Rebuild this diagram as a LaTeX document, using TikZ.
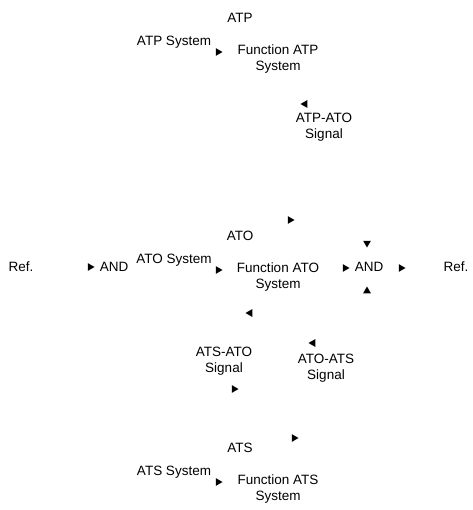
\documentclass[tikz,border=0pt]{standalone}
\usepackage{fontspec}
\setmainfont{Liberation Sans}
\usetikzlibrary{shapes.geometric}
\tikzset{
  lbl/.style={font=\fontsize{13.5}{16.5}\selectfont, align=center, inner sep=1pt},
  tip/.style={regular polygon, regular polygon sides=3, fill=black, inner sep=0pt, minimum size=9pt, rotate=#1}
}
\begin{document}
\begin{tikzpicture}[x=1pt, y=-1pt]
            \useasboundingbox (0,0) rectangle (472,510);
            \foreach \s/\F in {ATP/51,ATO/269,ATS/481}{
              \node[lbl] (\s) at (240,\F-33) {\s};
              \node[lbl] (\s-in) at (174,\F-9) {\s{} System};
              \node[tip=-90] (\s-tip) at (218,\F+1) {};
              \node[lbl] (\s-fn) at (278,\F+8) {Function \s\\System};
            }
            \node[lbl] (ref-l) at (21,267) {Ref.};
            \node[lbl] (and-l) at (114,267) {AND};
            \node[lbl] (and-r) at (369,267) {AND};
            \node[lbl] (ref-r) at (456,267) {Ref.};
            \node[lbl] (atp-ato) at (324,127) {ATP-ATO\\Signal};
            \node[lbl] (ats-ato) at (224,361) {ATS-ATO\\Signal};
            \node[lbl] (ato-ats) at (326,368) {ATO-ATS\\Signal};
            \foreach \x/\y/\r/\n in {90/267/-90/t1,345/268/-90/t2,367/243/180/t3,367/291/0/t4,401/268/-90/t5,290/220/-90/t6,305/104/90/t7,250/313/90/t8,234/389/-90/t9,313/343/90/t10,294/438/-90/t11}
            \node[tip=\r] (\n) at (\x,\y) {};
\end{tikzpicture}
\end{document}
